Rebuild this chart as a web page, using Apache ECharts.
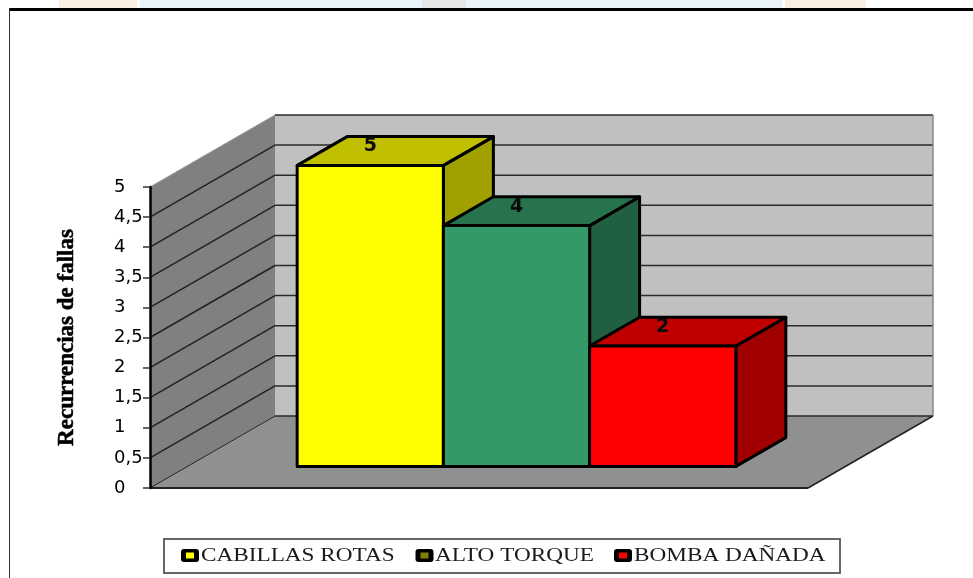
<!DOCTYPE html>
<html><head><meta charset="utf-8">
<style>html,body{margin:0;padding:0;background:#fff}#c{width:973px;height:578px}</style>
<script src="https://cdn.jsdelivr.net/npm/echarts@6/dist/echarts.min.js"></script>
</head><body><div id="c"></div>
<script>
const categories = ['CABILLAS ROTAS', 'ALTO TORQUE', 'BOMBA DAÑADA'];
const values = [5, 4, 2];
const yTicks = [0, 0.5, 1, 1.5, 2, 2.5, 3, 3.5, 4, 4.5, 5];
const barPositions = [0, 1, 2];
const frontColors = ['#FFFF00', '#339966', '#FF0000'];
const topColors = ['#C0C000', '#26734D', '#C00000'];
const sideColors = ['#A0A000', '#206040', '#A00000'];
const legendColors = ['#FFFF00', '#808000', '#FF0000'];

const X_MIN = -0.75, X_MAX = 3.75;
const WALL = [125, -72];
const BAR_NEAR = 0.3, BAR_FAR = 0.7;

const off = (p, t) => [p[0] + WALL[0] * t, p[1] + WALL[1] * t];

function renderWalls(params, api) {
  const o = api.coord([X_MIN, 0]), top = api.coord([X_MIN, 5]), r = api.coord([X_MAX, 0]);
  const kids = [];
  const poly = (pts, fill, stroke, lw) => kids.push({type: 'polygon', shape: {points: pts},
    style: {fill, stroke: stroke || null, lineWidth: lw || 0}});
  const line = (a, b, c, lw) => kids.push({type: 'polyline', shape: {points: [a, b]},
    style: {stroke: c, lineWidth: lw, fill: null}});
  poly([off(o, 1), off(r, 1), off([r[0], top[1]], 1), off(top, 1)], '#C0C0C0');
  poly([o, off(o, 1), off(top, 1), top], '#808080');
  poly([o, r, off(r, 1), off(o, 1)], '#909090');
  yTicks.forEach(v => {
    const a = api.coord([X_MIN, v]), b = api.coord([X_MAX, v]);
    if (v > 0 && v < 5) line(a, off(a, 1), '#222', 1.5);
    line(off(a, 1), off(b, 1), '#2a2a2a', 1.5);
  });
  line(top, off(top, 1), '#999', 1);
  line(off(r, 1), off([r[0], top[1]], 1), '#888', 1.5);
  line(o, off(o, 1), '#222', 1);
  line(o, r, '#222', 2);
  line(r, off(r, 1), '#222', 1.5);
  return {type: 'group', children: kids};
}

function renderBar(i) {
  return function (params, api) {
    const x = api.value(0), v = api.value(1);
    const bl = off(api.coord([x, 0]), BAR_NEAR), br = off(api.coord([x + 1, 0]), BAR_NEAR);
    const tl = off(api.coord([x, v]), BAR_NEAR), tr = off(api.coord([x + 1, v]), BAR_NEAR);
    const d = BAR_FAR - BAR_NEAR;
    const st = f => ({fill: f, stroke: '#000', lineWidth: 3, lineJoin: 'round'});
    return {type: 'group', children: [
      {type: 'polygon', shape: {points: [br, off(br, d), off(tr, d), tr]}, style: st(sideColors[i])},
      {type: 'polygon', shape: {points: [tl, tr, off(tr, d), off(tl, d)]}, style: st(topColors[i])},
      {type: 'polygon', shape: {points: [bl, br, tr, tl]}, style: st(frontColors[i])},
      {type: 'text', style: {text: String(v), x: (tl[0] + tr[0]) / 2, y: tl[1] - 19,
        align: 'center', verticalAlign: 'middle', fill: '#0a0a0a',
        font: 'bold 19px "DejaVu Sans"'}}
    ]};
  };
}

const bandRects = [[59, 78, '#FBEEE2'], [140, 642, '#E8F4FA'], [422, 44, '#E6E6E6'], [785, 81, '#FBEEE2']];
const legendSwatchX = [181, 415.5, 614];
const legendTextX = [201, 435, 634];

const legendGraphic = [
  {type: 'rect', shape: {x: 164, y: 539, width: 676, height: 34}, style: {fill: '#fff', stroke: '#666', lineWidth: 2}, z: 10},
  ...categories.flatMap((name, i) => [
    {type: 'rect', z: 10, shape: {x: legendSwatchX[i], y: 549, width: 18, height: 13, r: 3}, style: {fill: '#000'}},
    {type: 'rect', z: 11, shape: {x: legendSwatchX[i] + 5, y: 552.5, width: 8, height: 6}, style: {fill: legendColors[i]}},
    {type: 'text', z: 11, x: legendTextX[i], y: 556.5, scaleX: 1.29,
      style: {text: name, font: '18px "Liberation Serif"', fill: '#1a1a1a', align: 'left', verticalAlign: 'middle'}}
  ])
];

const chart = echarts.init(document.getElementById('c'));
chart.setOption({
  animation: false,
  backgroundColor: '#fff',
  grid: {left: 150, right: 165, top: 187, bottom: 90},
  xAxis: {type: 'value', min: X_MIN, max: X_MAX, show: false},
  yAxis: {
    type: 'value', min: 0, max: 5, interval: 0.5, z: 6,
    name: 'Recurrencias de fallas', nameLocation: 'middle', nameRotate: 90, nameGap: 71,
    nameTextStyle: {fontFamily: 'Liberation Serif', fontWeight: 'bold', fontSize: 23, color: '#000', textBorderColor: '#000', textBorderWidth: 0.5},
    axisLine: {show: true, onZero: false, lineStyle: {color: '#000', width: 2.5}},
    axisTick: {show: true, length: 7, lineStyle: {color: '#333', width: 1.5}},
    splitLine: {show: false},
    axisLabel: {margin: 36, align: 'left', padding: [2, 0, 0, 0], color: '#000', fontFamily: 'DejaVu Sans', fontSize: 18,
      formatter: v => String(v).replace('.', ',')}
  },
  graphic: [
    ...bandRects.map(b => ({type: 'rect', z: -1, shape: {x: b[0], y: 0, width: b[1], height: 8}, style: {fill: b[2]}})),
    {type: 'rect', shape: {x: 9, y: 8, width: 964, height: 3}, style: {fill: '#000'}},
    {type: 'rect', shape: {x: 9, y: 8, width: 1, height: 570}, style: {fill: '#333'}},
    ...legendGraphic
  ],
  series: [
    {type: 'custom', name: 'walls', renderItem: renderWalls, data: [[0, 0]], z: 1, silent: true},
    ...categories.map((name, i) => ({
      type: 'custom', name, renderItem: renderBar(i), z: 2 + i,
      itemStyle: {color: legendColors[i]},
      data: [[barPositions[i], values[i]]]
    }))
  ]
});
</script></body></html>
